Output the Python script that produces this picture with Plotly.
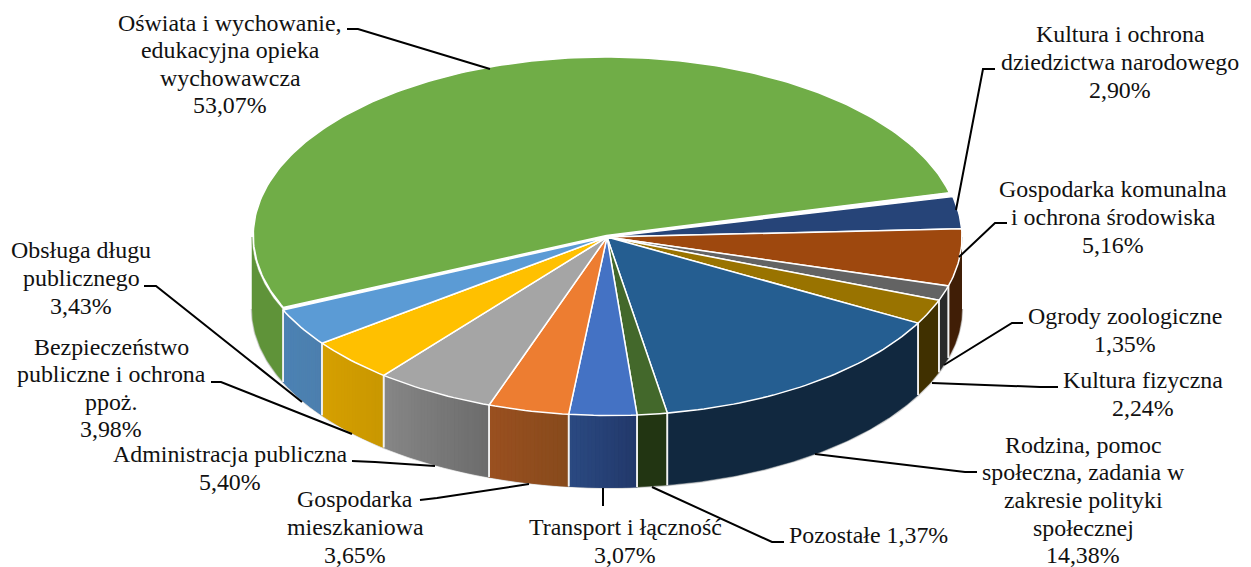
import math
import plotly.graph_objects as go

# ---- chart data -------------------------------------------------------
categories = [
    "Oświata i wychowanie,<br>edukacyjna opieka<br>wychowawcza",
    "Kultura i ochrona<br>dziedzictwa narodowego",
    "Gospodarka komunalna<br>i ochrona środowiska",
    "Ogrody zoologiczne",
    "Kultura fizyczna",
    "Rodzina, pomoc<br>społeczna, zadania w<br>zakresie polityki<br>społecznej",
    "Pozostałe",
    "Transport i łączność",
    "Gospodarka<br>mieszkaniowa",
    "Administracja publiczna",
    "Bezpieczeństwo<br>publiczne i ochrona<br>ppoż.",
    "Obsługa długu<br>publicznego",
]
values = [53.07, 2.90, 5.16, 1.35, 2.24, 14.38, 1.37, 3.07, 3.65, 5.40, 3.98, 3.43]
inline_value = [False, False, False, False, False, False, True, False, False, False, False, False]

# ---- styling ----------------------------------------------------------
top_colors = ["#70AD47", "#264478", "#9E480E", "#636363", "#997300", "#255E91",
              "#43682B", "#4472C4", "#ED7D31", "#A5A5A5", "#FFC000", "#5B9BD5"]
wall_left = ["#5F9339", "#203A66", "#401E06", "#2A2A2A", "#403000", "#11283F",
             "#223512", "#2B4A82", "#9A5020", "#878787", "#D6A000", "#4C82B4"]
wall_right = ["#5F9339", "#203A66", "#401E06", "#2A2A2A", "#403000", "#11283F",
              "#223512", "#22386A", "#874A1C", "#6C6C6C", "#C99700", "#4C7FAE"]

CX, CY, RX, RY, DEPTH = 607.0, 237.0, 355.0, 178.5, 72.0
START_DEG = 76.9  # clockwise angle from the top of the ellipse where Oświata ends
FRONT_SKEW = 2.5  # perspective drift of the nearest part of the rim
LINE_STEP = 27.6
FONT_SIZE = 23.9
label_x = [230, 1120, 1113, 1125, 1143, 1083, 868, 625, 355, 230, 111, 81]
label_y = [64, 62, 217, 330, 394, 500, 535, 541, 527, 468, 388, 278]
leaders = [
    ([347, 358, 490], [29, 29, 69]),
    ([995, 983, 956], [69, 69, 210]),
    ([1007, 995, 959], [223, 223, 257]),
    ([1023, 1012, 944], [323, 323, 365]),
    ([1058, 1040, 932], [387, 387, 383]),
    ([977, 965, 815], [472, 472, 454]),
    ([784, 772, 652], [542, 542, 487]),
    ([603, 603], [488, 506]),
    ([420, 437, 529], [500, 498, 484]),
    ([352, 375, 435], [461, 462, 466]),
    ([211, 221, 352], [382, 382, 434]),
    ([144, 156, 302], [286, 286, 402]),
]


def pt(deg, dy=0.0):
    a = math.radians(deg)
    c = math.cos(a)
    skew = FRONT_SKEW * c ** 4 if c < 0 else 0.0
    return CX + RX * math.sin(a) + skew, CY - RY * c + dy


def arc(a0, a1, dy=0.0, step=1.0):
    n = max(2, int(abs(a1 - a0) / step) + 1)
    return [pt(a0 + (a1 - a0) * i / (n - 1), dy) for i in range(n)]


def mix(c0, c1, t):
    p = [int(c0[i:i + 2], 16) for i in (1, 3, 5)]
    q = [int(c1[i:i + 2], 16) for i in (1, 3, 5)]
    return "#%02X%02X%02X" % tuple(round(p[i] + (q[i] - p[i]) * t) for i in range(3))


def poly(fig, points, fill, line, width):
    fig.add_trace(go.Scatter(
        x=[p[0] for p in points], y=[p[1] for p in points],
        mode="lines", fill="toself", fillcolor=fill,
        line=dict(color=line, width=width), hoverinfo="skip", showlegend=False))


# slice spans, clockwise; Oświata ends where "Kultura" begins
total = sum(values)
sweep0 = values[0] / total * 360.0
spans = [(START_DEG - sweep0 + 360.0, START_DEG + 360.0)]
cur = START_DEG
for v in values[1:]:
    spans.append((cur, cur + v / total * 360.0))
    cur += v / total * 360.0

fig = go.Figure()

# outer halo of the body
halo = arc(90, 270, DEPTH)
fig.add_trace(go.Scatter(x=[p[0] for p in halo], y=[p[1] for p in halo], mode="lines",
                         line=dict(color="#D4D4D4", width=2.5), hoverinfo="skip", showlegend=False))

# walls (only the front half, 90..270 degrees, is visible)
for i, (a0, a1) in enumerate(spans):
    vis0, vis1 = max(a0, 90.0), min(a1, 270.0)
    if vis1 <= vis0:
        continue
    base = mix(wall_left[i], wall_right[i], 0.5)
    poly(fig, arc(vis0, vis1, 0, 0.5) + arc(vis1, vis0, DEPTH, 0.5), base, base, 0.5)
    if wall_left[i] != wall_right[i]:
        n = max(2, int((vis1 - vis0) / 0.6))
        for k in range(n):
            s0 = vis0 + (vis1 - vis0) * k / n
            s1 = vis0 + (vis1 - vis0) * (k + 1) / n
            # angles grow right-to-left on the front of the pie
            col = mix(wall_left[i], wall_right[i], 1 - (k + 0.5) / n)
            poly(fig, arc(s0, s1, 0, 0.5) + arc(s1, s0, DEPTH, 0.5), col, col, 0.8)

# white separators on slice edges
for a0, a1 in spans:
    for a in (a0, a1):
        if 90.0 < a < 270.0:
            p0, p1 = pt(a), pt(a, DEPTH)
            fig.add_trace(go.Scatter(x=[p0[0], p1[0]], y=[p0[1], p1[1]], mode="lines",
                                     line=dict(color="#F2F2F2", width=1.6),
                                     hoverinfo="skip", showlegend=False))

# top faces; the large slice sits a little further back, so is slightly offset
for i, (a0, a1) in enumerate(spans):
    apex = (CX, CY)
    if i == 0:
        pts = [(x * 0.995 + CX * 0.005 - 0.5, y - 1.5) for x, y in arc(a0 + 0.4, a1 - 0.8)]
        apex = (CX - 0.5, CY - 1.5)
    else:
        pts = arc(a0, a1)
    poly(fig, [apex] + pts + [apex], top_colors[i], "#FFFFFF", 1.5)

# leader lines
for lx, ly in leaders:
    fig.add_trace(go.Scatter(x=lx, y=ly, mode="lines", line=dict(color="#000000", width=2),
                             hoverinfo="skip", showlegend=False))

# labels, one annotation per line to hold the tighter line spacing
for i, cat in enumerate(categories):
    pct = f"{values[i]:.2f}".replace(".", ",") + "%"
    lines = cat.split("<br>")
    if inline_value[i]:
        lines[-1] += " " + pct
    else:
        lines.append(pct)
    for j, line in enumerate(lines):
        fig.add_annotation(x=label_x[i], y=label_y[i] + (j - (len(lines) - 1) / 2) * LINE_STEP,
                           text=line, showarrow=False, xanchor="center", yanchor="middle",
                           font=dict(family="Liberation Serif", size=FONT_SIZE, color="#111111"))

fig.update_layout(
    width=1251, height=567, margin=dict(l=0, r=0, t=0, b=0),
    paper_bgcolor="#FFFFFF", plot_bgcolor="#FFFFFF", showlegend=False,
    xaxis=dict(range=[0, 1251], visible=False, fixedrange=True),
    yaxis=dict(range=[567, 0], visible=False, fixedrange=True),
)
fig.write_html("out.html", config={"displayModeBar": False},
               post_script="document.body.style.margin='0';document.body.style.overflow='hidden';")
